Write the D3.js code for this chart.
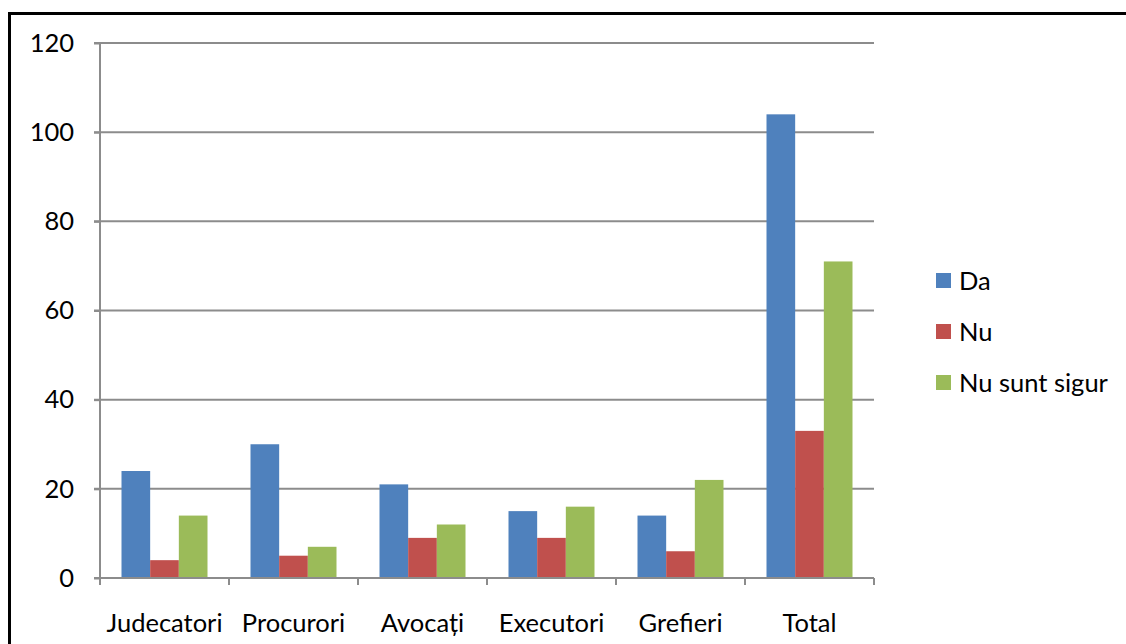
<!DOCTYPE html>
<html><head><meta charset="utf-8">
<script src="https://cdn.jsdelivr.net/npm/d3@7"></script>
<style>body{margin:0;background:#fff}svg{display:block}</style>
</head><body>
<script>
const categories = ["Judecatori","Procurori","Avocați","Executori","Grefieri","Total"];
const seriesNames = ["Da","Nu","Nu sunt sigur"];
const da = [24,30,21,15,14,104];
const nu = [4,5,9,9,6,33];
const nuSuntSigur = [14,7,12,16,22,71];
const yTicks = [0,20,40,60,80,100,120];
const colors = ["#4F81BD","#C0504D","#9BBB59"];
const seriesValues = [da, nu, nuSuntSigur];

(function () {
const W = 1126, H = 644;
const svg = d3.select("body").append("svg").attr("width", W).attr("height", H);
const font = "Lato, 'Open Sans', sans-serif";
const fs = 25.5;

// frame
svg.append("rect").attr("x", 9.5).attr("y", 13.5).attr("width", 1130).attr("height", 700)
  .attr("fill", "none").attr("stroke", "#000").attr("stroke-width", 3);

const pLeft = 100, pRight = 874, pTop = 43, pBottom = 578;
const x = d3.scaleBand().domain(categories).range([pLeft, pRight]).paddingInner(0).paddingOuter(0);
const y = d3.scaleLinear().domain([0, 120]).range([pBottom, pTop]);
const inner = d3.scaleBand().domain(seriesNames).range([0, x.bandwidth()]).paddingInner(0).paddingOuter(0.75);

// gridlines
svg.append("g").selectAll("line").data(yTicks.filter(d => d > 0)).join("line")
  .attr("x1", pLeft - 6).attr("x2", pRight).attr("y1", d => y(d)).attr("y2", d => y(d))
  .attr("stroke", "#8c8c8c").attr("stroke-width", 2);

// bars
const groups = svg.append("g").selectAll("g").data(categories).join("g")
  .attr("transform", d => `translate(${x(d)},0)`);
groups.selectAll("rect").data((c, i) => seriesNames.map((s, j) => ({s, v: seriesValues[j][i], j})))
  .join("rect")
  .attr("x", d => inner(d.s)).attr("width", inner.bandwidth())
  .attr("y", d => y(d.v)).attr("height", d => y(0) - y(d.v))
  .attr("fill", d => colors[d.j]);

// y axis
const yAxis = d3.axisLeft(y).tickValues(yTicks).tickSize(6).tickPadding(20);
const gy = svg.append("g").attr("transform", `translate(${pLeft},0)`).call(yAxis);
gy.select(".domain").attr("stroke", "#8c8c8c").attr("stroke-width", 2).attr("d", `M-6,${pTop}H0V${pBottom}H-6`);
gy.selectAll(".tick line").attr("stroke", "#8c8c8c").attr("stroke-width", 2);
gy.selectAll(".tick text").attr("font-family", font).attr("font-size", fs).attr("fill", "#000").attr("x", -26);

// x axis
const xAxis = d3.axisBottom(x).tickSize(0).tickPadding(36);
const gx = svg.append("g").attr("transform", `translate(0,${pBottom})`).call(xAxis);
gx.select(".domain").attr("stroke", "#8c8c8c").attr("stroke-width", 2).attr("d", `M${pLeft},0H${pRight}`);
gx.selectAll(".tick text").attr("font-family", font).attr("font-size", fs).attr("fill", "#000").attr("dy", "0.71em");
// category boundary ticks
const bounds = categories.map(c => x(c)).concat([pRight]);
svg.append("g").selectAll("line").data(bounds).join("line")
  .attr("x1", d => d).attr("x2", d => d).attr("y1", pBottom).attr("y2", pBottom + 7)
  .attr("stroke", "#8c8c8c").attr("stroke-width", 2);

// legend
const lg = svg.append("g").selectAll("g").data(seriesNames).join("g")
  .attr("transform", (d, i) => `translate(936,${281 + i * 51})`);
lg.append("rect").attr("x", 0).attr("y", -8).attr("width", 15).attr("height", 15).attr("fill", (d, i) => colors[i]);
lg.append("text").attr("x", 23).attr("y", 0).attr("dy", "0.35em").attr("font-family", font).attr("font-size", fs).text(d => d);
})();
</script>
</body></html>
